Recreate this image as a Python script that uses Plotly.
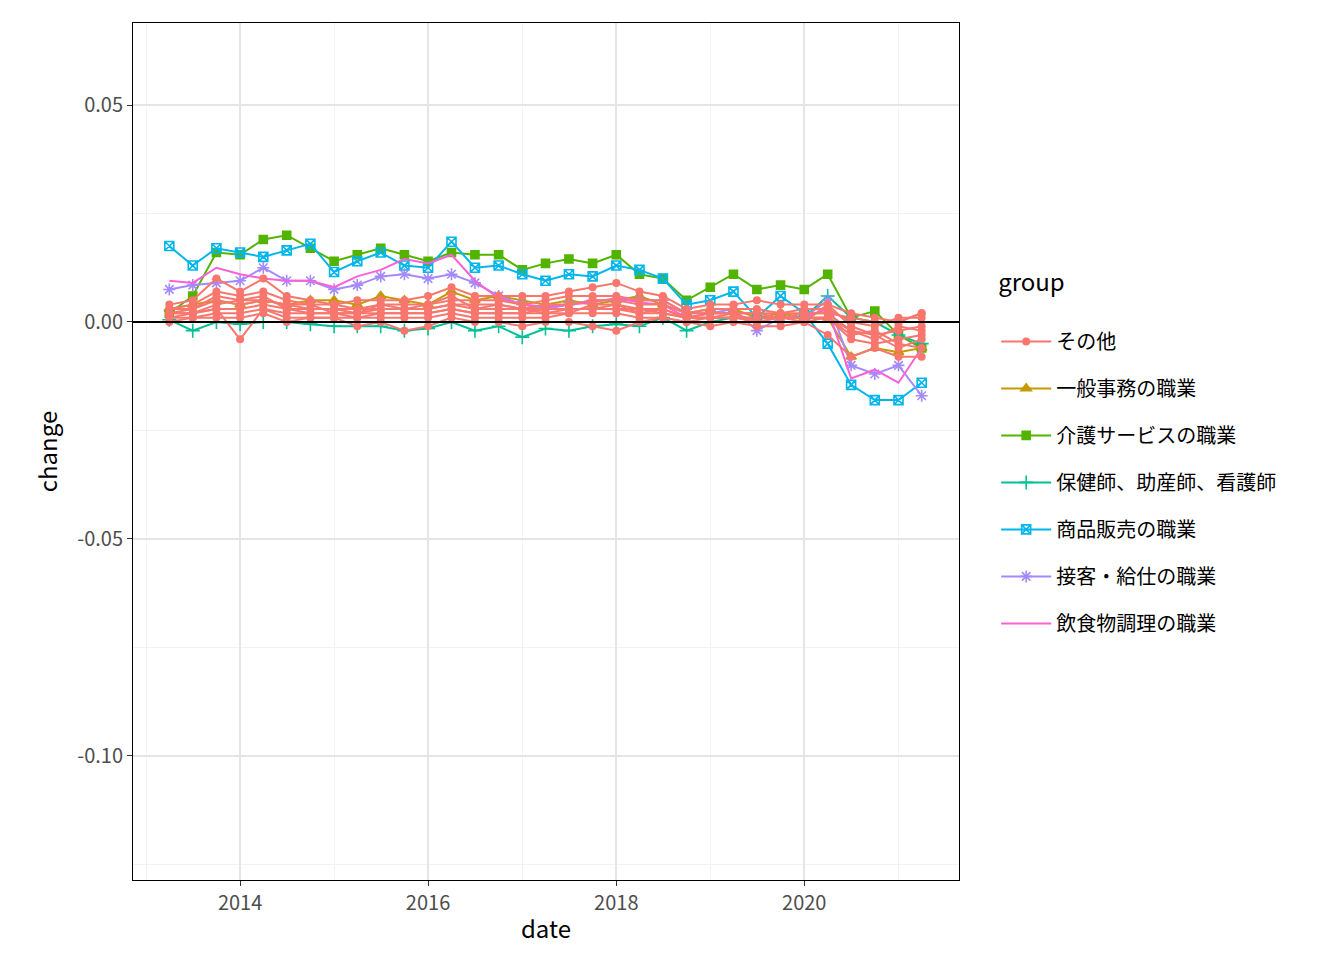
import pandas as pd
import plotly.graph_objects as go

dates = pd.date_range("2013-04-01", periods=33, freq="QS").strftime("%Y-%m-%d").tolist()

kaigo = [0.002, 0.006, 0.016, 0.0155, 0.019, 0.020, 0.017, 0.014, 0.0155, 0.017, 0.0155, 0.014, 0.016, 0.0155, 0.0155, 0.012, 0.0135,
         0.0145, 0.0135, 0.0155, 0.011, 0.010, 0.005, 0.008, 0.011, 0.0075, 0.0085, 0.0075, 0.011, 0.001, 0.0025, -0.003, -0.006]
shohin = [0.0175, 0.013, 0.017, 0.016, 0.015, 0.0165, 0.018, 0.0115, 0.014, 0.016, 0.013, 0.0125, 0.0185, 0.0125, 0.013, 0.011, 0.0095,
          0.011, 0.0105, 0.013, 0.012, 0.010, 0.004, 0.005, 0.007, 0.001, 0.006, 0.002, -0.005, -0.0145, -0.018, -0.018, -0.014]
sekkyaku = [0.0075, 0.0085, 0.009, 0.0095, 0.0125, 0.0095, 0.0095, 0.0075, 0.0085, 0.0105, 0.011, 0.010, 0.011, 0.009, 0.006, 0.004, 0.003,
            0.004, 0.005, 0.005, 0.005, 0.005, 0.002, 0.002, 0.003, -0.002, 0.001, 0.001, 0.005, -0.010, -0.012, -0.010, -0.017]
inshoku = [0.0095, 0.009, 0.0125, 0.011, 0.010, 0.0095, 0.0095, 0.008, 0.0105, 0.012, 0.0145, 0.0135, 0.0155, 0.0095, 0.0055, 0.004, 0.0035,
           0.004, 0.0045, 0.0055, 0.0045, 0.004, 0.001, 0.002, 0.002, 0.000, 0.001, 0.001, 0.003, -0.013, -0.011, -0.014, -0.006]
hoken = [0.0005, -0.002, 0.000, -0.0005, 0.000, 0.000, -0.0005, -0.001, -0.001, -0.001, -0.002, -0.0015, 0.000, -0.002, -0.001, -0.0035, -0.0015,
         -0.002, -0.001, -0.0005, -0.001, 0.001, -0.002, 0.000, 0.001, 0.001, 0.001, 0.001, 0.006, 0.001, 0.000, -0.003, -0.005]
ippan = [0.003, 0.004, 0.005, 0.004, 0.005, 0.004, 0.005, 0.005, 0.004, 0.006, 0.005, 0.004, 0.007, 0.005, 0.006, 0.005, 0.004,
         0.005, 0.004, 0.005, 0.006, 0.004, 0.002, 0.003, 0.003, 0.001, 0.002, 0.001, 0.001, -0.008, -0.006, -0.007, -0.006]

sonota = [
    [0.004, 0.005, 0.010, 0.007, 0.010, 0.006, 0.005, 0.004, 0.005, 0.005, 0.005, 0.006, 0.008, 0.006, 0.006, 0.006, 0.006,
     0.007, 0.008, 0.009, 0.007, 0.006, 0.003, 0.004, 0.004, 0.005, 0.004, 0.004, 0.004, 0.002, 0.001, 0.000, 0.002],
    [0.003, 0.004, 0.007, 0.006, 0.007, 0.005, 0.004, 0.004, 0.003, 0.004, 0.004, 0.004, 0.005, 0.005, 0.005, 0.004, 0.005,
     0.006, 0.006, 0.006, 0.005, 0.005, 0.002, 0.003, 0.003, 0.003, 0.002, 0.003, 0.003, 0.000, -0.001, 0.001, 0.001],
    [0.002, 0.003, 0.005, 0.004, 0.005, 0.004, 0.003, 0.003, 0.003, 0.003, 0.003, 0.003, 0.004, 0.004, 0.004, 0.003, 0.004,
     0.004, 0.005, 0.005, 0.004, 0.004, 0.002, 0.002, 0.002, 0.002, 0.002, 0.002, 0.002, -0.002, -0.003, -0.002, -0.001],
    [0.001, 0.002, 0.003, -0.004, 0.003, 0.002, 0.002, 0.002, 0.001, 0.002, 0.002, 0.002, 0.003, 0.002, 0.002, 0.002, 0.003,
     0.003, 0.003, 0.003, 0.003, 0.002, 0.001, 0.001, 0.001, 0.001, 0.001, 0.001, 0.001, -0.004, -0.005, -0.004, -0.003],
    [0.000, 0.001, 0.001, 0.001, 0.002, 0.000, 0.001, 0.001, -0.001, 0.000, -0.002, -0.001, 0.001, 0.000, 0.000, -0.001, 0.000,
     0.000, -0.001, -0.002, 0.000, 0.001, 0.000, -0.001, 0.000, -0.001, -0.001, 0.000, -0.003, -0.008, -0.006, -0.008, -0.008],
    [0.002, 0.002, 0.004, 0.005, 0.006, 0.003, 0.003, 0.003, 0.002, 0.003, 0.003, 0.004, 0.006, 0.003, 0.004, 0.003, 0.002,
     0.002, 0.004, 0.004, 0.002, 0.003, 0.001, 0.002, 0.002, 0.000, 0.001, 0.000, 0.004, -0.001, -0.003, -0.006, -0.004],
    [0.001, 0.001, 0.002, 0.002, 0.003, 0.001, 0.001, 0.001, 0.001, 0.001, 0.001, 0.001, 0.002, 0.001, 0.001, 0.001, 0.001,
     0.002, 0.002, 0.002, 0.001, 0.001, 0.000, 0.001, 0.001, 0.000, 0.000, 0.000, 0.001, -0.003, -0.002, -0.005, -0.006],
    [0.003, 0.003, 0.006, 0.005, 0.005, 0.004, 0.004, 0.002, 0.002, 0.004, 0.003, 0.003, 0.004, 0.003, 0.003, 0.003, 0.003,
     0.003, 0.003, 0.004, 0.003, 0.003, 0.001, 0.001, 0.002, 0.002, 0.001, 0.002, 0.002, 0.001, 0.000, 0.000, 0.002],
    [0.002, 0.002, 0.003, 0.003, 0.004, 0.003, 0.002, 0.002, 0.002, 0.002, 0.002, 0.002, 0.003, 0.002, 0.002, 0.002, 0.002,
     0.003, 0.003, 0.003, 0.002, 0.002, 0.001, 0.001, 0.001, 0.001, 0.001, 0.001, 0.001, -0.002, -0.004, -0.001, -0.002],
]

groups = [
    ("一般事務の職業", ippan, "#C49A00", "triangle-up", 9),
    ("介護サービスの職業", kaigo, "#53B400", "square", 8),
    ("保健師、助産師、看護師", hoken, "#00C094", "cross-thin-open", 10),
    ("商品販売の職業", shohin, "#00B6EB", "square-x-open", 9),
    ("接客・給仕の職業", sekkyaku, "#A58AFF", "asterisk-open", 10),
    ("飲食物調理の職業", inshoku, "#FB61D7", None, 0),
]

fig = go.Figure()
for rank, (name, vals, color, sym, size) in enumerate(groups, start=2):
    if sym:
        fig.add_trace(go.Scatter(x=dates, y=vals, name=name, mode="lines+markers", legendrank=rank, legendgroup=name,
                                 line=dict(color=color, width=2),
                                 marker=dict(symbol=sym, size=size, color=color, line=dict(color=color, width=1.6))))
    else:
        fig.add_trace(go.Scatter(x=dates, y=vals, name=name, mode="lines", legendrank=rank, legendgroup=name,
                                 line=dict(color=color, width=2)))

for i, vals in enumerate(sonota):
    fig.add_trace(go.Scatter(x=dates, y=vals, name="その他", mode="lines+markers", legendgroup="sonota",
                             showlegend=(i == 0), legendrank=1,
                             line=dict(color="#F8766D", width=2), marker=dict(symbol="circle", size=8, color="#F8766D")))

fig.add_hline(y=0, line=dict(color="black", width=2))

axis_common = dict(showline=True, mirror=True, linecolor="black", linewidth=1, gridcolor="#E5E5E5", gridwidth=1.5,
                   ticks="outside", ticklen=5, tickcolor="#333333", tickfont=dict(size=20, color="#4D4D4D"),
                   zeroline=False, automargin=False)

fig.update_layout(
    width=1344, height=960, plot_bgcolor="white", paper_bgcolor="white",
    font=dict(family="Noto Sans CJK JP, sans-serif", color="black"),
    margin=dict(l=125, r=393, t=15, b=88),
    xaxis=dict(title=dict(text="date", font=dict(size=24), standoff=6), type="date",
               range=["2012-11-11", "2021-08-24"], tick0="2014-01-01", dtick="M24", tickformat="%Y",
               minor=dict(showgrid=True, gridcolor="#F2F2F2", gridwidth=0.8, dtick="M12", tick0="2013-01-01"),
               **axis_common),
    yaxis=dict(title=dict(text="change", font=dict(size=24), standoff=12), range=[-0.1286, 0.0689],
               tickvals=[-0.10, -0.05, 0.00, 0.05], ticktext=["-0.10", "-0.05", "0.00", "0.05"],
               minor=dict(showgrid=True, gridcolor="#F2F2F2", gridwidth=0.8, tickvals=[-0.125, -0.075, -0.025, 0.025]),
               **axis_common),
    legend=dict(x=1.045, y=0.5, yanchor="middle", xanchor="left", font=dict(size=20),
                title=dict(text="group<br> ", font=dict(size=24)), tracegroupgap=18, itemwidth=50),
)

fig.write_html("out.html")
